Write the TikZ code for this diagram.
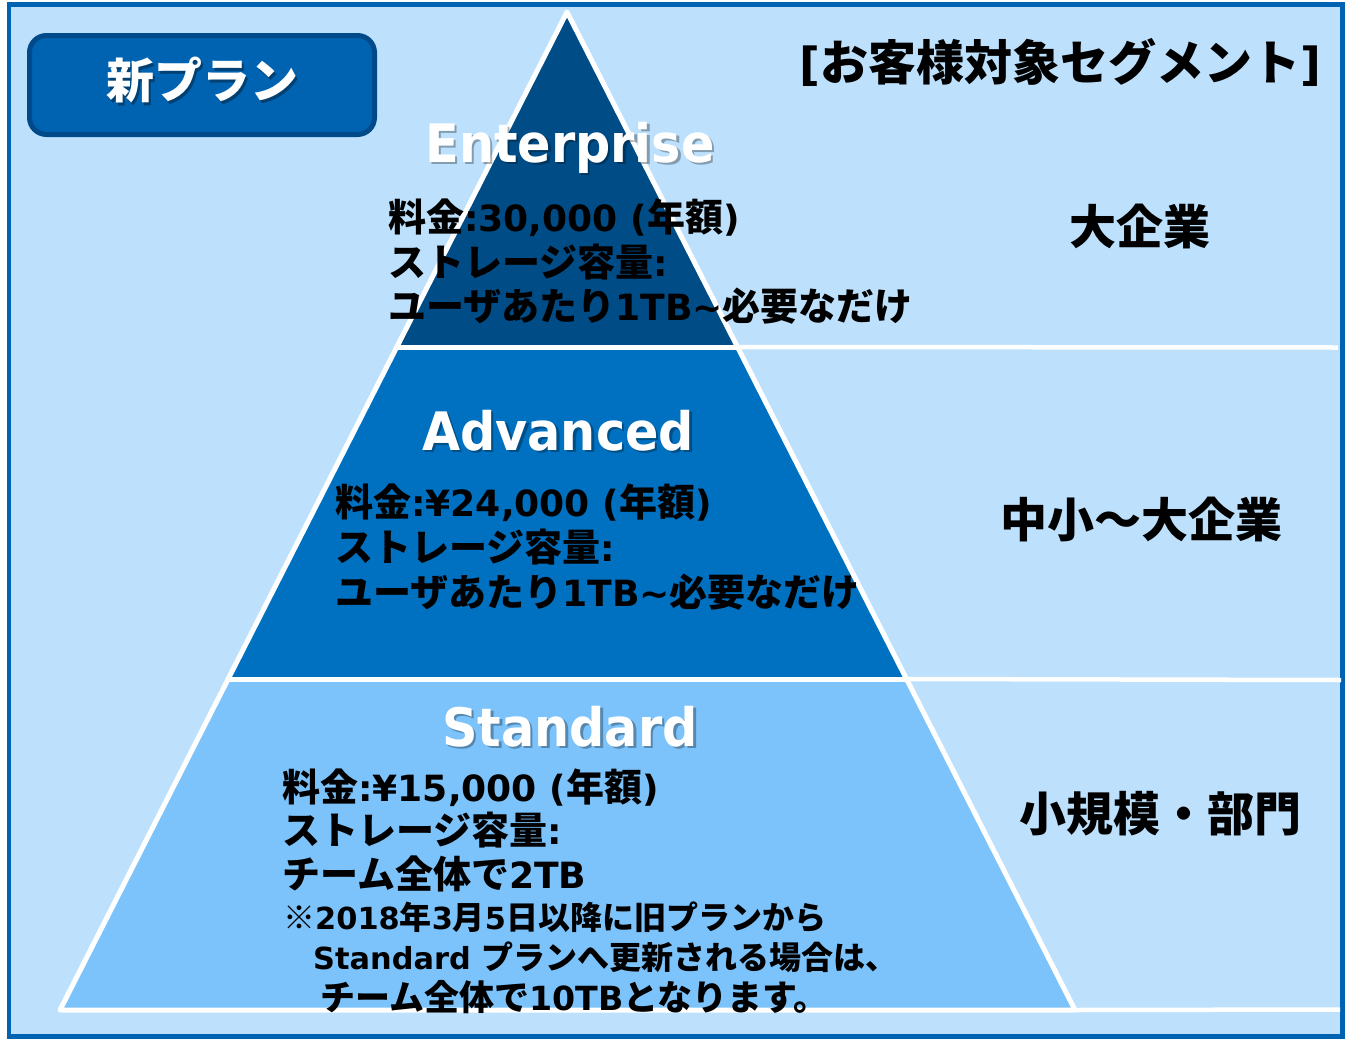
\documentclass[tikz,border=0pt]{standalone}
\usepackage{fontspec}
\setmainfont{Noto Sans CJK JP}
\newfontfamily\lat{DejaVu Sans}[Scale=0.95]
\newfontfamily\ttlfont{DejaVu Sans}
\definecolor{bg}{RGB}{189,225,253}
\definecolor{frame}{RGB}{0,99,177}
\definecolor{boxfill}{RGB}{0,99,177}
\definecolor{boxedge}{RGB}{0,74,138}
\definecolor{tiertop}{RGB}{0,76,135}
\definecolor{tiermid}{RGB}{0,112,192}
\definecolor{tierlow}{RGB}{124,195,251}
\begin{document}
\begin{tikzpicture}[x=1pt,y=-1pt,
  body/.style={anchor=base west,inner sep=0pt,font=\fontsize{38}{44}\selectfont\bfseries},
  small/.style={anchor=base west,inner sep=0pt,font=\fontsize{32}{36}\selectfont\bfseries},
  seg/.style={anchor=center,inner sep=0pt,font=\fontsize{47}{52}\selectfont\bfseries},
  tiertitle/.style={anchor=base,inner sep=0pt,font=\ttlfont\fontsize{53}{60}\selectfont\bfseries,xscale=0.93,text=white},
  tiershadow/.style={tiertitle,text=black,opacity=0.3},
  tierline/.style={draw=white,line width=5pt,line join=round},
  extline/.style={draw=white,line width=4.5pt}
]
\useasboundingbox (0,0) rectangle (1345,1039);
\fill[white] (0,0) rectangle (1345,1039);
% frame and background
\draw[line width=4.5pt,draw=frame,fill=bg] (9,4.5) rectangle (1342.5,1036.5);

% pyramid corners
\coordinate (apex) at (567,12);
\coordinate (l1) at (397,347);
\coordinate (r1) at (737.5,347);
\coordinate (l2) at (228,679);
\coordinate (r2) at (906.5,679);
\coordinate (l3) at (60,1010);
\coordinate (r3) at (1075,1010);
\coordinate (e1) at (1338,347.5);
\coordinate (e2) at (1341,680);
\coordinate (e3) at (1340,1009.5);

% tiers
\fill[tierlow] (l2) -- (r2) -- (r3) -- (l3) -- cycle;
\fill[tiermid] (l1) -- (r1) -- (r2) -- (l2) -- cycle;
\fill[tiertop] (apex) -- (r1) -- (l1) -- cycle;
\draw[tierline] (apex) -- (r3) -- (l3) -- cycle;
\draw[tierline] (l1) -- (r1);
\draw[tierline] (l2) -- (r2);
\draw[extline] (r1) -- (e1);
\draw[extline] (r2) -- (e2);
\draw[extline] (r3) -- (e3);

% new plan box
\node[draw=boxedge,fill=boxfill,line width=5pt,rounded corners=17pt,minimum width=345pt,minimum height=99pt,inner sep=0pt] (planbox) at (202,85) {};
\node[anchor=center,inner sep=0pt,font=\fontsize{48}{52}\selectfont\bfseries,text=black,opacity=0.35] (plantitleshadow) at (204.5,83) {新プラン};
\node[anchor=center,inner sep=0pt,font=\fontsize{48}{52}\selectfont\bfseries,text=white] (plantitle) at (202,80.5) {新プラン};

% heading
\node[seg,font=\fontsize{48}{52}\selectfont\bfseries] (heading) at (1060,62) {{\lat [}お客様対象セグメント{\lat ]}};

% segments
\node[seg] (segE) at (1140,226) {大企業};
\node[seg] (segA) at (1141,519) {中小～大企業};
\node[seg] (segS) at (1160,814) {小規模・部門};

% tier titles
\node[tiershadow] (tE) at (572.5,164.5) {Enterprise};
\node[tiertitle] (tEw) at (570,162) {Enterprise};
\node[tiershadow] (tA) at (560.5,452.5) {Advanced};
\node[tiertitle] (tAw) at (558,450) {Advanced};
\node[tiershadow] (tS) at (572.5,748.5) {Standard};
\node[tiertitle] (tSw) at (570,746) {Standard};

% Enterprise text
\node[body] (E1) at (388,231) {料金{\lat :30,000 (}年額{\lat )}};
\node[body] (E2) at (388,276) {ストレージ容量{\lat :}};
\node[body] (E3) at (388,320) {ユーザあたり{\lat 1TB\char"007E}必要なだけ};

% Advanced text
\node[body] (A1) at (335,516) {料金{\lat :¥24,000 (}年額{\lat )}};
\node[body] (A2) at (335,561) {ストレージ容量{\lat :}};
\node[body] (A3) at (335,606) {ユーザあたり{\lat 1TB\char"007E}必要なだけ};

% Standard text
\node[body] (S1) at (282,801) {料金{\lat :¥15,000 (}年額{\lat )}};
\node[body] (S2) at (282,844) {ストレージ容量{\lat :}};
\node[body] (S3) at (282,888) {チーム全体で{\lat 2TB}};
\node[small] (N1) at (283,929) {※{\lat 2018}年{\lat 3}月{\lat 5}日以降に旧プランから};
\node[small] (N2) at (313,969) {{\lat Standard }プランへ更新される場合は、};
\node[body,font=\fontsize{35}{40}\selectfont\bfseries] (N3) at (320,1010) {チーム全体で{\lat 10TB}となります。};
\end{tikzpicture}
\end{document}
